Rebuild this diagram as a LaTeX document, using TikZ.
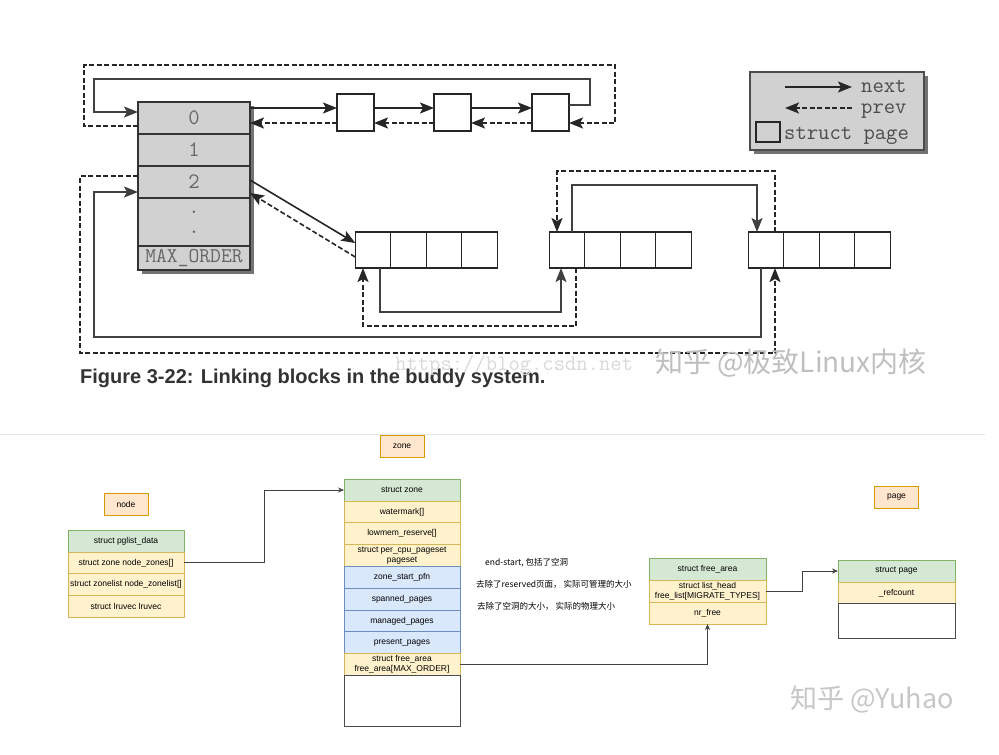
\documentclass[tikz,border=0pt]{standalone}
\usepackage{fontspec}
\setmainfont{Liberation Sans}
\newfontfamily\cjk{Noto Sans CJK SC}
\usetikzlibrary{arrows.meta, calc, positioning}

\definecolor{hdrfill}{HTML}{D5E8D4}
\definecolor{hdrline}{HTML}{82B366}
\definecolor{fldfill}{HTML}{FFF2CC}
\definecolor{fldline}{HTML}{D6B656}
\definecolor{blufill}{HTML}{DAE8FC}
\definecolor{bluline}{HTML}{6C8EBF}
\definecolor{tagfill}{HTML}{FFE6CC}
\definecolor{tagline}{HTML}{D79B00}

\tikzset{
  slot/.style={draw=black!80, fill=black!18, line width=1.5pt, minimum width=112pt, minimum height=32pt,
    inner sep=0pt, outer sep=0pt, text=black!60, align=center, font=\ttfamily\fontsize{22}{20}\selectfont},
  pg/.style={draw=black!85, fill=white, line width=1.4pt, minimum width=35.5pt, minimum height=36pt,
    inner sep=0pt, outer sep=0pt},
  nx/.style={draw=black!85, line width=1.6pt, -{Stealth[length=14pt,width=11pt,inset=3pt]}},
  pv/.style={nx, dash pattern=on 5pt off 2.5pt},
  loopnx/.style={draw=black!75, line width=1.3pt, -{Stealth[length=14pt,width=11pt,inset=3pt]}},
  looppv/.style={loopnx, draw=black!85, line width=1.6pt, dash pattern=on 5pt off 2.5pt},
  legtext/.style={inner sep=0pt, text=black!70, font=\ttfamily\fontsize{22}{22}\selectfont},
  tag/.style={draw=tagline, fill=tagfill, line width=0.8pt, minimum width=44pt, minimum height=22pt,
    inner sep=0pt, font=\fontsize{8.5}{10}\selectfont},
  hdr/.style={draw=hdrline, fill=hdrfill, line width=0.8pt, minimum width=116pt, minimum height=21.8pt,
    inner sep=0pt, outer sep=0pt, align=center, font=\fontsize{8.5}{9.5}\selectfont},
  fld/.style={hdr, draw=fldline, fill=fldfill},
  blu/.style={hdr, draw=bluline, fill=blufill},
  blank/.style={hdr, draw=black!70, fill=white},
  link/.style={draw=black!75, line width=0.8pt, -{Stealth[length=6pt,width=5pt]}},
  note/.style={anchor=west, inner sep=0pt, font=\cjk\fontsize{8.5}{10}\selectfont},
}

\begin{document}
\begin{tikzpicture}[x=1pt, y=-1pt]
    \useasboundingbox[fill=white] (0,0) rectangle (999,755);

    \fill[black!55] (142,106) rectangle (254,274);
    \node[slot] (r0) at (194,118) {0};
    \node[slot] (r1) at (194,150) {1};
    \node[slot] (r2) at (194,182) {2};
    \node[slot, minimum height=48pt] (rdots) at (194,222) {.\\.};
    \node[slot, minimum height=24pt, font=\ttfamily\fontsize{21}{21}\selectfont] (rmax) at (194,258) {MAX\_ORDER};

    \node[pg, minimum width=37pt, minimum height=37pt] (p1) at (355.5,112.5) {};
    \node[pg, minimum width=37pt, minimum height=37pt] (p2) at (452.5,112.5) {};
    \node[pg, minimum width=37pt, minimum height=37pt] (p3) at (550.5,112.5) {};

    \draw[nx] ($(r0.east)+(0,-10)$) -- ($(p1.west)+(0,-4.5)$);
    \draw[nx] ($(p1.east)+(0,-4.5)$) -- ($(p2.west)+(0,-4.5)$);
    \draw[nx] ($(p2.east)+(0,-4.5)$) -- ($(p3.west)+(0,-4.5)$);
    \draw[pv] ($(p1.west)+(0,10.5)$) -- ($(r0.east)+(0,5)$);
    \draw[pv] ($(p2.west)+(0,10.5)$) -- ($(p1.east)+(0,10.5)$);
    \draw[pv] ($(p3.west)+(0,10.5)$) -- ($(p2.east)+(0,10.5)$);
    \draw[loopnx] ($(p3.east)+(0,-7.5)$) -- (590,105) -- (590,79) -- (94,79) -- (94,112) -- ($(r0.west)+(0,-6)$);
    \draw[looppv] ($(r0.west)+(0,8)$) -- (84,126) -- (84,65) -- (615,65) -- (615,123) -- ($(p3.east)+(0,10.5)$);

    \node[pg] (a1) at (373,250) {};
    \node[pg, right=0pt of a1] (a2) {};
    \node[pg, right=0pt of a2] (a3) {};
    \node[pg, right=0pt of a3] (a4) {};
    \node[pg] (b1) at (567,250) {};
    \node[pg, right=0pt of b1] (b2) {};
    \node[pg, right=0pt of b2] (b3) {};
    \node[pg, right=0pt of b3] (b4) {};
    \node[pg] (c1) at (766,250) {};
    \node[pg, right=0pt of c1] (c2) {};
    \node[pg, right=0pt of c2] (c3) {};
    \node[pg, right=0pt of c3] (c4) {};

    \draw[nx] ($(r2.east)+(0,-2)$) -- ($(a1.west)+(0,-7)$);
    \draw[pv] ($(a1.west)+(0,7)$) -- ($(r2.east)+(0,11)$);
    \draw[loopnx] ($(a1.south)+(7,0)$) -- ++(0,44) -| ($(b1.south)+(-6,0)$);
    \draw[looppv] ($(b1.south)+(9,0)$) -- ++(0,58) -| ($(a1.south)+(-10,0)$);
    \draw[loopnx] ($(b1.north)+(5,0)$) -- ++(0,-47) -| ($(c1.north)+(-9,0)$);
    \draw[looppv] ($(c1.north)+(9,0)$) -- ++(0,-61) -| ($(b1.north)+(-10,0)$);
    \draw[loopnx] ($(c1.south)+(-5,0)$) -- ++(0,69) -- (94,337) |- ($(r2.west)+(0,10)$);
    \draw[looppv] ($(r2.west)+(0,-6)$) -- (80,176) -- (80,353) -| ($(c1.south)+(9,0)$);

    \fill[black!55] (754,76) rectangle (928,154);
    \node[draw=black!70, fill=black!18, line width=1.2pt, minimum width=174pt, minimum height=78pt, inner sep=0pt] (legend) at (837,111) {};
    \coordinate (nxa) at (785,87);
    \coordinate (nxb) at (852,87);
    \coordinate (pva) at (852,108);
    \coordinate (pvb) at (785,108);
    \draw[nx] (nxa) -- (nxb);
    \draw[pv] (pva) -- (pvb);
    \node[legtext, anchor=base west] (nxlab) at (861,92) {next};
    \node[legtext, anchor=base west] (pvlab) at (861,113) {prev};
    \node[pg, fill=none, line width=1.2pt, minimum width=24pt, minimum height=20pt] (lgsq) at (768,132) {};
    \node[legtext, anchor=base west] (sqlab) at (784,139) {struct page};

    \node[anchor=base west, inner sep=0pt, text=black!80, font=\bfseries\fontsize{20}{24}\selectfont] (caption) at (80,383) {Figure 3-22: Linking blocks in the buddy system.};
    \node[anchor=base west, inner sep=0pt, text=black!15, font=\ttfamily\fontsize{22}{22}\selectfont] (wm1) at (395,370) {https://blog.csdn.net};
    \node[anchor=base west, inner sep=0pt, text=black!25, font=\cjk\fontsize{28}{28}\selectfont] (wm2) at (655,372) {知乎 @极致Linux内核};

    \draw[black!10, line width=1pt] (0,434) -- (985,434);

    \node[tag] (nodetag) at (126,504) {node};
    \node[hdr] (pghdr) at (126,541) {struct pglist\_data};
    \node[fld, below=0pt of pghdr] (nzones) {struct zone node\_zones[]};
    \node[fld, below=0pt of nzones] (nzonelist) {struct zonelist node\_zonelist[]};
    \node[fld, below=0pt of nzonelist] (nlruvec) {struct lruvec lruvec};

    \node[tag] (zonetag) at (402,446.5) {zone};
    \node[hdr] (zhdr) at (402,490) {struct zone};
    \node[fld, below=0pt of zhdr] (zwmark) {watermark[]};
    \node[fld, below=0pt of zwmark] (zlowmem) {lowmem\_reserve[]};
    \node[fld, below=0pt of zlowmem] (zpcp) {struct per\_cpu\_pageset\\pageset};
    \node[blu, below=0pt of zpcp] (zstart) {zone\_start\_pfn};
    \node[blu, below=0pt of zstart] (zspan) {spanned\_pages};
    \node[blu, below=0pt of zspan] (zmanaged) {managed\_pages};
    \node[blu, below=0pt of zmanaged] (zpresent) {present\_pages};
    \node[fld, below=0pt of zpresent] (zfree) {struct free\_area\\free\_area[MAX\_ORDER]};
    \node[blank, minimum height=51pt, below=0pt of zfree] (zrest) {};

    \node[note] (nspan) at (485,563) {end-start, 包括了空洞};
    \node[note] (nmanaged) at (476,584) {去除了reserved页面， 实际可管理的大小};
    \node[note] (npresent) at (477,606) {去除了空洞的大小， 实际的物理大小};

    \node[hdr, minimum width=117pt] (fahdr) at (707.5,569.5) {struct free\_area};
    \node[fld, minimum width=117pt, below=0pt of fahdr] (lhead) {struct list\_head\\free\_list[MIGRATE\_TYPES]};
    \node[fld, minimum width=117pt, below=0pt of lhead] (nrfree) {nr\_free};

    \node[tag] (pagetag) at (896.5,497) {page};
    \node[hdr, minimum width=117pt] (phdr) at (896.5,571) {struct page};
    \node[fld, minimum width=117pt, below=0pt of phdr] (pref) {\_refcount};
    \node[blank, minimum width=117pt, minimum height=35pt, below=0pt of pref] (prest) {};

    \draw[link] (nzones.east) -- ++(80,0) |- (zhdr.west);
    \draw[link] (zfree.east) -| (nrfree.south);
    \draw[link] (lhead.east) -- ++(36,0) |- (phdr.west);

    \node[inner sep=0pt, text=black!22, font=\cjk\fontsize{27}{27}\selectfont] (wm3) at (872,699) {知乎 @Yuhao};
\end{tikzpicture}
\end{document}
